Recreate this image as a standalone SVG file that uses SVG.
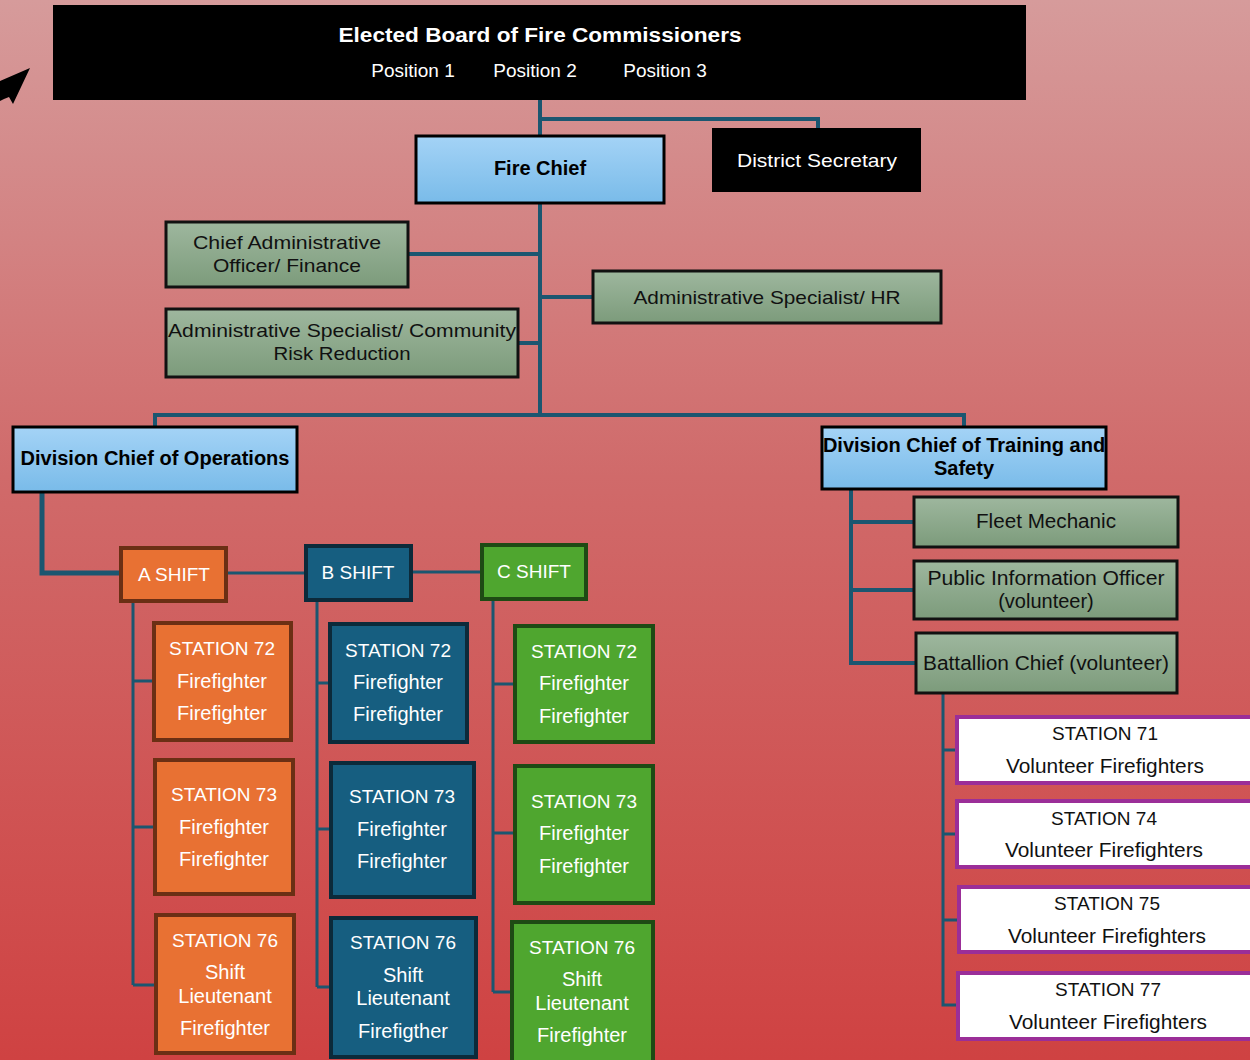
<svg xmlns="http://www.w3.org/2000/svg" width="1250" height="1060" viewBox="0 0 1250 1060">
<defs>
<linearGradient id="bg" x1="0" y1="0" x2="0" y2="1">
<stop offset="0" stop-color="#d69b9b"/>
<stop offset="0.45" stop-color="#d06a6a"/>
<stop offset="1" stop-color="#cf4242"/>
</linearGradient>
<linearGradient id="blue" x1="0" y1="0" x2="0" y2="1">
<stop offset="0" stop-color="#a4d3f6"/>
<stop offset="1" stop-color="#79bbe9"/>
</linearGradient>
<linearGradient id="green" x1="0" y1="0" x2="0" y2="1">
<stop offset="0" stop-color="#9eb79e"/>
<stop offset="1" stop-color="#7c9b7b"/>
</linearGradient>
<style>
text{font-family:"Liberation Sans",Arial,sans-serif;text-anchor:middle;dominant-baseline:central}
.b{font-weight:bold;font-size:20px;fill:#000}
.w{fill:#fff}
.k{fill:#111}
.f19{font-size:19px}
.f20{font-size:20px}
.lb{fill:url(#blue);stroke:#000;stroke-width:3}
.gr{fill:url(#green);stroke:#111;stroke-width:3}
.blk{fill:#000}
.or{fill:#e87133;stroke:#6b2f14;stroke-width:4}
.bl{fill:#165e80;stroke:#0c2a3a;stroke-width:4}
.gn{fill:#4fa62f;stroke:#1e4a14;stroke-width:4}
.vol{fill:#fff;stroke:#9b2e98;stroke-width:4}
.c{fill:none;stroke:#1b5670;stroke-width:4}
.ct{fill:none;stroke:#1b5670;stroke-width:3}
</style>
</defs>
<rect width="1250" height="1060" fill="url(#bg)"/>
<polygon points="30,68 0,81 0,101 4,99 9,97 13,104" fill="#000"/>

<g id="connectors">
<path class="c" d="M540,100 V415 M540,119 H818 V128"/>
<path class="c" d="M408,254 H540 M518,343 H540 M540,297 H593"/>
<path class="c" d="M155,427 V415 H964 V427"/>
<path class="c" d="M42,492 V573 H121" style="stroke-width:5"/>
<path class="ct" d="M226,573 H306 M411,572 H482"/>
<path class="ct" d="M133,601 V985 M133,681 H154 M133,827 H155 M133,985 H156"/>
<path class="ct" d="M317,600 V987 M317,683 H330 M317,829 H331 M317,987 H331"/>
<path class="ct" d="M493,599 V992 M493,684 H515 M493,833 H515 M493,992 H512"/>
<path class="c" d="M851,489 V663 H916 M851,522 H914 M851,590 H914"/>
<path class="ct" d="M943,693 V1005 H958 M943,750 H957 M943,834 H957 M943,920 H959"/>
</g>

<g id="board">
<rect class="blk" x="53" y="5" width="973" height="95"/>
<text class="b w" x="540" y="35" textLength="403" lengthAdjust="spacingAndGlyphs">Elected Board of Fire Commissioners</text>
<text class="w f19" x="413" y="70">Position 1</text>
<text class="w f19" x="535" y="70">Position 2</text>
<text class="w f19" x="665" y="70">Position 3</text>
</g>
<g id="fire-chief">
<rect class="lb" x="416" y="136" width="248" height="67"/>
<text class="b" x="540" y="168">Fire Chief</text>
</g>
<g id="district-secretary">
<rect class="blk" x="712" y="128" width="209" height="64"/>
<text class="w f19" x="817" y="160" textLength="160" lengthAdjust="spacingAndGlyphs">District Secretary</text>
</g>
<g id="cao">
<rect class="gr" x="166" y="222" width="242" height="65"/>
<text class="k f19" x="287" y="242" textLength="188" lengthAdjust="spacingAndGlyphs">Chief Administrative</text>
<text class="k f19" x="287" y="265" textLength="148" lengthAdjust="spacingAndGlyphs">Officer/ Finance</text>
</g>
<g id="crr">
<rect class="gr" x="166" y="309" width="352" height="68"/>
<text class="k f19" x="342" y="330" textLength="348" lengthAdjust="spacingAndGlyphs">Administrative Specialist/ Community</text>
<text class="k f19" x="342" y="353" textLength="137" lengthAdjust="spacingAndGlyphs">Risk Reduction</text>
</g>
<g id="hr">
<rect class="gr" x="593" y="271" width="348" height="52"/>
<text class="k f19" x="767" y="297" textLength="267" lengthAdjust="spacingAndGlyphs">Administrative Specialist/ HR</text>
</g>
<g id="div-ops">
<rect class="lb" x="13" y="427" width="284" height="65"/>
<text class="b" x="155" y="458">Division Chief of Operations</text>
</g>
<g id="div-training">
<rect class="lb" x="822" y="427" width="284" height="62"/>
<text class="b" x="964" y="445">Division Chief of Training and</text>
<text class="b" x="964" y="468">Safety</text>
</g>

<g id="a-shift">
<rect class="or" x="121" y="548" width="105" height="53"/>
<text class="w f19" x="174" y="574">A SHIFT</text>
</g>
<g id="b-shift">
<rect class="bl" x="306" y="546" width="105" height="54"/>
<text class="w f19" x="358" y="572">B SHIFT</text>
</g>
<g id="c-shift">
<rect class="gn" x="482" y="545" width="104" height="54"/>
<text class="w f19" x="534" y="571">C SHIFT</text>
</g>

<g id="a-72">
<rect class="or" x="154" y="623" width="137" height="117"/>
<text class="w f19" x="222" y="648">STATION 72</text>
<text class="w f20" x="222" y="681">Firefighter</text>
<text class="w f20" x="222" y="713">Firefighter</text>
</g>
<g id="a-73">
<rect class="or" x="155" y="760" width="138" height="134"/>
<text class="w f19" x="224" y="794">STATION 73</text>
<text class="w f20" x="224" y="827">Firefighter</text>
<text class="w f20" x="224" y="859">Firefighter</text>
</g>
<g id="a-76">
<rect class="or" x="156" y="915" width="138" height="138"/>
<text class="w f19" x="225" y="940">STATION 76</text>
<text class="w f20" x="225" y="972">Shift</text>
<text class="w f20" x="225" y="996">Lieutenant</text>
<text class="w f20" x="225" y="1028">Firefighter</text>
</g>

<g id="b-72">
<rect class="bl" x="330" y="624" width="137" height="118"/>
<text class="w f19" x="398" y="650">STATION 72</text>
<text class="w f20" x="398" y="682">Firefighter</text>
<text class="w f20" x="398" y="714">Firefighter</text>
</g>
<g id="b-73">
<rect class="bl" x="331" y="763" width="143" height="134"/>
<text class="w f19" x="402" y="796">STATION 73</text>
<text class="w f20" x="402" y="829">Firefighter</text>
<text class="w f20" x="402" y="861">Firefighter</text>
</g>
<g id="b-76">
<rect class="bl" x="331" y="918" width="145" height="139"/>
<text class="w f19" x="403" y="942">STATION 76</text>
<text class="w f20" x="403" y="975">Shift</text>
<text class="w f20" x="403" y="998">Lieutenant</text>
<text class="w f20" x="403" y="1031">Firefigther</text>
</g>

<g id="c-72">
<rect class="gn" x="515" y="626" width="138" height="116"/>
<text class="w f19" x="584" y="651">STATION 72</text>
<text class="w f20" x="584" y="683">Firefighter</text>
<text class="w f20" x="584" y="716">Firefighter</text>
</g>
<g id="c-73">
<rect class="gn" x="515" y="766" width="138" height="137"/>
<text class="w f19" x="584" y="801">STATION 73</text>
<text class="w f20" x="584" y="833">Firefighter</text>
<text class="w f20" x="584" y="866">Firefighter</text>
</g>
<g id="c-76">
<rect class="gn" x="512" y="922" width="141" height="140"/>
<text class="w f19" x="582" y="947">STATION 76</text>
<text class="w f20" x="582" y="979">Shift</text>
<text class="w f20" x="582" y="1003">Lieutenant</text>
<text class="w f20" x="582" y="1035">Firefighter</text>
</g>

<g id="fleet">
<rect class="gr" x="914" y="497" width="264" height="50"/>
<text class="k f20" x="1046" y="521" textLength="140" lengthAdjust="spacingAndGlyphs">Fleet Mechanic</text>
</g>
<g id="pio">
<rect class="gr" x="914" y="561" width="263" height="58"/>
<text class="k f20" x="1046" y="578" textLength="237" lengthAdjust="spacingAndGlyphs">Public Information Officer</text>
<text class="k f20" x="1046" y="601">(volunteer)</text>
</g>
<g id="battalion">
<rect class="gr" x="916" y="633" width="261" height="60"/>
<text class="k f20" x="1046" y="663" textLength="246" lengthAdjust="spacingAndGlyphs">Battallion Chief (volunteer)</text>
</g>

<g id="st-71">
<rect class="vol" x="957" y="717" width="300" height="66"/>
<text class="k f19" x="1105" y="733">STATION 71</text>
<text class="k f20" x="1105" y="766" textLength="198" lengthAdjust="spacingAndGlyphs">Volunteer Firefighters</text>
</g>
<g id="st-74">
<rect class="vol" x="957" y="801" width="300" height="66"/>
<text class="k f19" x="1104" y="818">STATION 74</text>
<text class="k f20" x="1104" y="850" textLength="198" lengthAdjust="spacingAndGlyphs">Volunteer Firefighters</text>
</g>
<g id="st-75">
<rect class="vol" x="959" y="887" width="300" height="65"/>
<text class="k f19" x="1107" y="903">STATION 75</text>
<text class="k f20" x="1107" y="936" textLength="198" lengthAdjust="spacingAndGlyphs">Volunteer Firefighters</text>
</g>
<g id="st-77">
<rect class="vol" x="958" y="973" width="300" height="66"/>
<text class="k f19" x="1108" y="989">STATION 77</text>
<text class="k f20" x="1108" y="1022" textLength="198" lengthAdjust="spacingAndGlyphs">Volunteer Firefighters</text>
</g>
</svg>
